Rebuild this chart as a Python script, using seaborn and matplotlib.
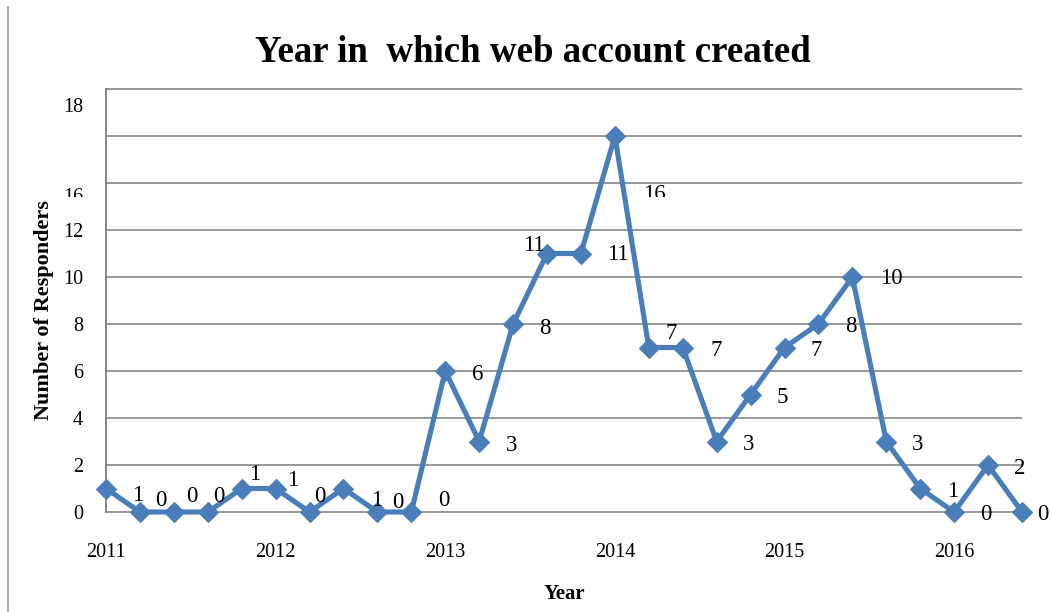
import numpy as np
import pandas as pd
import matplotlib
matplotlib.use("Agg")
import matplotlib.pyplot as plt
from matplotlib.lines import Line2D
from matplotlib.transforms import Bbox, TransformedBbox, blended_transform_factory
import seaborn as sns

# Responders per period (five periods per year, 2011 - mid 2016)
responders = [1, 0, 0, 0, 1, 1, 0, 1, 0, 0, 6, 3, 8, 11, 11, 16, 7, 7, 3, 5,
              7, 8, 10, 3, 1, 0, 2, 0]
year_labels = ["2011", "2012", "2013", "2014", "2015", "2016"]
year_positions = [0, 5, 10, 15, 20, 25]
ytick_values = [0, 2, 4, 6, 8, 10, 12]
grid_values = [0, 2, 4, 6, 8, 10, 12, 14, 16, 18]

# label offsets in pixels (dx right, dy down) from each marker
label_offsets = [(32, 7), (21, -12), (18, -16), (11, -16), (13, -14), (17, -8),
                 (10, -16), (33, 12), (20, -10), (32, -12), (32, 4), (32, 4),
                 (32, 4), (-13, -8), (37, 1), (39, 58), (22, -14), (33, 3),
                 (32, 3), (32, 3), (32, 3), (32, 3), (39, 1), (31, 3), (32, 3),
                 (32, 3), (32, 3), (21, 3)]

df = pd.DataFrame({"period": np.arange(len(responders)), "responders": responders})

sns.set_theme(style="white")
plt.rcParams["font.family"] = ["Liberation Serif", "DejaVu Serif"]
plt.rcParams["text.color"] = "black"
plt.rcParams["xtick.color"] = "black"
plt.rcParams["ytick.color"] = "black"

BLUE = "#4a7ebb"
GRID = "#868686"

fig = plt.figure(figsize=(10.51, 6.12), dpi=100)
ax = fig.add_axes([106 / 1051, 100 / 612, 916 / 1051, 423 / 612])

ax.set_xlim(0, len(responders) - 1)
ax.set_ylim(0, 18)

ax.hlines(grid_values, 0, len(responders) - 1, colors=GRID, linewidth=1.2,
          clip_on=False, zorder=1)

sns.lineplot(data=df, x="period", y="responders", ax=ax, color=BLUE,
             linewidth=3.7, marker="D", markersize=10.5, markeredgecolor=BLUE,
             markeredgewidth=0.8, clip_on=False, zorder=3)

for spine in ["top", "right", "bottom"]:
    ax.spines[spine].set_visible(False)
ax.spines["left"].set_color(GRID)
ax.spines["left"].set_linewidth(1.4)

ax.set_xticks(year_positions)
ax.set_xticklabels(year_labels)
ax.set_yticks(ytick_values)
ax.set_yticklabels([str(v) for v in ytick_values])
ax.tick_params(axis="x", length=0, pad=22, labelsize=14.5, labelcolor="black")
ax.tick_params(axis="y", length=0, pad=16.5, labelsize=14.5, labelcolor="black")
ax.set_xlabel("")
ax.set_ylabel("")

# region above which the top labels stay visible
clip_tf = blended_transform_factory(fig.transFigure, ax.transData)
clip_box = TransformedBbox(Bbox([[0, 13.42], [1, 30]]), clip_tf)

# upper axis labels
ylab_tf = blended_transform_factory(fig.transFigure, ax.transData)
t16 = ax.text(83 / 1051, 13.19, "16", transform=ylab_tf, ha="right",
              va="baseline", fontsize=14.5, color="black")
t16.set_clip_box(clip_box)
t16.set_clip_on(True)
ax.text(83 / 1051, 17.02, "18", transform=ylab_tf, ha="right",
        va="baseline", fontsize=14.5, color="black", clip_on=False)

# value labels
for i, (v, (dx, dy)) in enumerate(zip(responders, label_offsets)):
    t = ax.annotate(str(v), xy=(i, v), xytext=(dx, -dy),
                    textcoords="offset pixels", ha="center", va="center",
                    fontsize=16.5, color="black", annotation_clip=False)
    if v == max(responders):
        t.set_clip_box(clip_box)
        t.set_clip_on(True)
    else:
        t.set_clip_on(False)

fig.text(533 / 1051, (612 - 62) / 612, "Year in  which web account created",
         ha="center", va="baseline", fontsize=26.6, fontweight="bold",
         color="black")
fig.text(564 / 1051, (612 - 599) / 612, "Year", ha="center", va="baseline",
         fontsize=15, fontweight="bold", color="black")
fig.text(44 / 1051, (612 - 310) / 612, "Number of Responders", rotation=90,
         ha="center", va="center", fontsize=16, fontweight="bold",
         color="black")

fig.add_artist(Line2D([8 / 1051, 8 / 1051], [0, (612 - 7) / 612],
                      transform=fig.transFigure, color="#9a9a9a", linewidth=1.2))

fig.savefig("out.png", dpi=100)
